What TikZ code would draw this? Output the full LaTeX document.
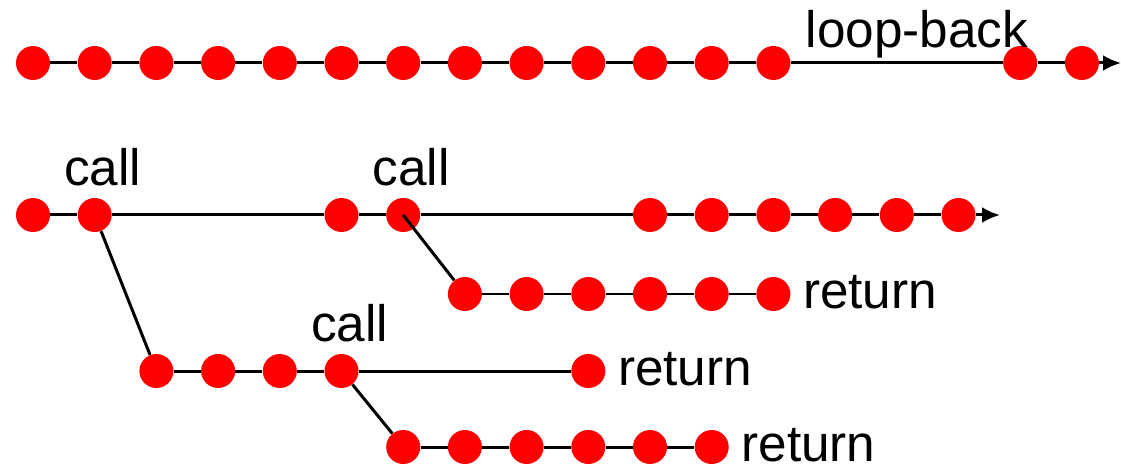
\documentclass[tikz,border=0pt]{standalone}
\usepackage{fontspec}
\setmainfont{Liberation Sans}
\usepackage{xcolor}
\usepackage{tikz}
\usetikzlibrary{calc, positioning, arrows.meta}

\begin{document}
\begin{tikzpicture}[>={Latex[length=0.36cm, width=0.32cm]}, x=0.02cm, y=-0.02cm,
    wire/.style={line width=0.06cm},
    dot/.style={circle, fill=red, inner sep=0pt, minimum size=0.68cm},
    lbl/.style={inner sep=0pt, font=\fontsize{29.2}{34}\selectfont}]
    \useasboundingbox (0,0) rectangle (1121,469);

    % Hàng trên cùng (loop-back)
    \foreach \i in {0,...,12,16,17}
        \node[dot] (a\i) at ({33+61.7*\i},63) {};
    \coordinate (aend) at (1121,63);
    \foreach \i [remember=\i as \j (initially 0)] in {1,2,3,4,5,6,7,8,9,10,11,12,16,17}
        \draw[wire] (a\j) -- (a\i);
    \draw[wire, ->] (a17) -- (aend);
    \node[lbl, anchor=base] (loop) at (917,48) {loop-back};

    % Hàng chính với các lời gọi
    \foreach \i in {0,1,5,6,10,11,12,13,14,15}
        \node[dot] (b\i) at ({33+61.7*\i},215) {};
    \coordinate (bend) at (1000,215);
    \foreach \i [remember=\i as \j (initially 0)] in {1,5,6,10,11,12,13,14,15}
        \draw[wire] (b\j) -- (b\i);
    \draw[wire, ->] (b15) -- (bend);

    % Các nhánh được gọi
    \foreach \i in {7,...,12}
        \node[dot] (c\i) at ({33+61.7*\i},294) {};
    \foreach \i in {2,3,4,5,9}
        \node[dot] (d\i) at ({33+61.7*\i},371) {};
    \foreach \i in {6,...,11}
        \node[dot] (e\i) at ({33+61.7*\i},447) {};
    \foreach \i [remember=\i as \j (initially 7)] in {8,...,12}
        \draw[wire] (c\j) -- (c\i);
    \foreach \i [remember=\i as \j (initially 2)] in {3,4,5,9}
        \draw[wire] (d\j) -- (d\i);
    \foreach \i [remember=\i as \j (initially 6)] in {7,...,11}
        \draw[wire] (e\j) -- (e\i);

    % Đường gọi
    \draw[wire] (b1) -- (d2);
    \draw[wire] (b6.center) -- (c7);
    \draw[wire] (d5) -- (e6);

    % Nhãn
    \node[lbl, above=0.22cm of b1, xshift=0.16cm] (call1) {call};
    \node[lbl, above=0.22cm of b6, xshift=0.16cm] (call2) {call};
    \node[lbl, above=0.22cm of d5, xshift=0.16cm] (call3) {call};
    \node[lbl, right=0.24cm of c12, yshift=0.04cm] (ret1) {return};
    \node[lbl, right=0.24cm of d9, yshift=0.04cm] (ret2) {return};
    \node[lbl, right=0.24cm of e11, yshift=0.04cm] (ret3) {return};
\end{tikzpicture}
\end{document}
